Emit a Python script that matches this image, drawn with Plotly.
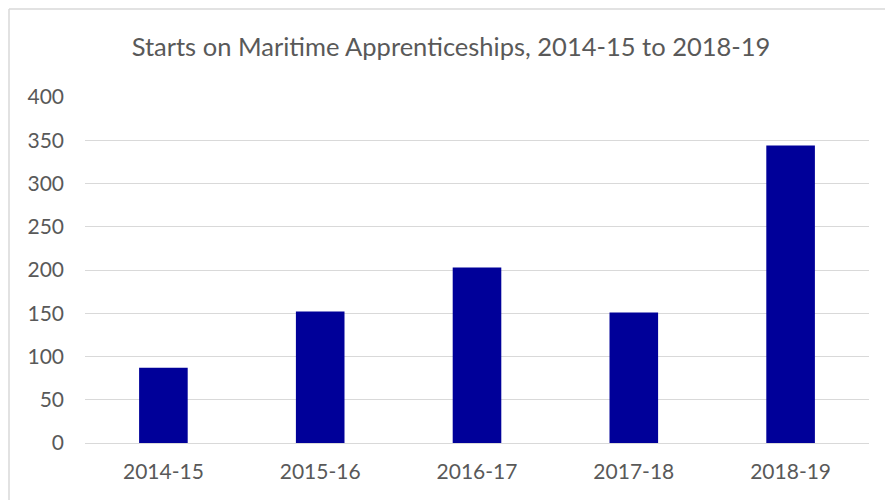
import plotly.graph_objects as go

categories = ["2014-15", "2015-16", "2016-17", "2017-18", "2018-19"]
starts = [87, 152, 203, 151, 344]
y_ticks = [0, 50, 100, 150, 200, 250, 300, 350, 400]

W, H = 885, 500
L, R, T, B = 85, 16, 97, 57
pw = W - L - R
ph = H - T - B

fig = go.Figure(go.Bar(x=categories, y=starts, marker=dict(color="#000099", line=dict(width=0)),
                       hoverinfo="x+y"))

fig.update_layout(
    width=W, height=H,
    margin=dict(l=L, r=R, t=T, b=B),
    paper_bgcolor="white", plot_bgcolor="white",
    bargap=0.69,
    showlegend=False,
    font=dict(family="Lato, Open Sans, sans-serif", color="#595959", size=21),
    title=dict(text="Starts on Maritime Apprenticeships, 2014-15 to 2018-19",
               x=451 / W, xanchor="center", xref="container",
               y=1 - 47 / H, yanchor="middle", yref="container",
               font=dict(size=25.5, color="#595959")),
    xaxis=dict(showgrid=False, showline=False, ticks="", tickfont=dict(size=21),
               ticklabelstandoff=14),
    yaxis=dict(range=[0, 400], tickvals=y_ticks, showgrid=True, gridcolor="#d9d9d9",
               gridwidth=1.3, zeroline=True, zerolinecolor="#d9d9d9", zerolinewidth=1.3,
               showline=False, ticks="", ticklabelstandoff=20, tickfont=dict(size=21)),
    shapes=[
        dict(type="line", xref="paper", yref="paper",
             x0=(9 - L) / pw, x1=(W + 5 - L) / pw, y0=1 + (T - 9) / ph, y1=1 + (T - 9) / ph,
             line=dict(color="#d9d9d9", width=1.5)),
        dict(type="line", xref="paper", yref="paper",
             x0=(9 - L) / pw, x1=(9 - L) / pw, y0=1 + (T - 9) / ph, y1=-(B + 5) / ph,
             line=dict(color="#d9d9d9", width=1.5)),
    ],
)

fig.write_html("out.html", config={"displayModeBar": False},
               post_script="document.body.style.margin='0px';document.body.style.overflow='hidden';")
